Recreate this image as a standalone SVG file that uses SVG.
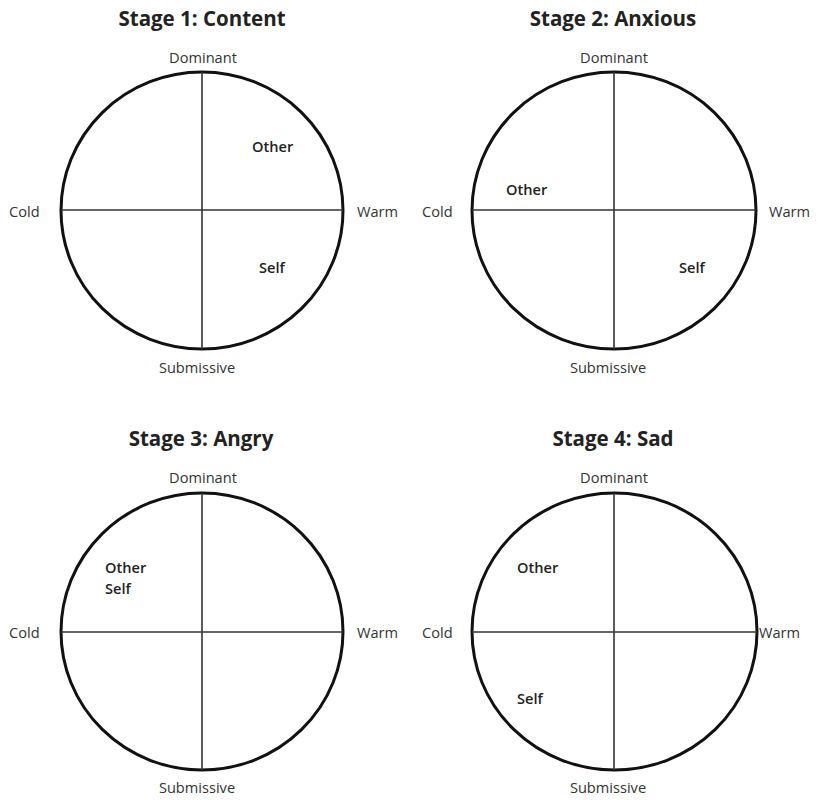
<svg xmlns="http://www.w3.org/2000/svg" width="822" height="800" viewBox="0 0 822 800">
<style>
.ring{fill:none;stroke:#111;stroke-width:3}
.axis{stroke:#333;stroke-width:1.6}
.title{font-family:"Open Sans","Liberation Sans",sans-serif;font-weight:700;font-size:20.5px;fill:#222;text-anchor:middle}
.pole{font-family:"Open Sans","Liberation Sans",sans-serif;font-size:14.6px;fill:#333}
.mid{text-anchor:middle}
.tag{font-family:"Open Sans","Liberation Sans",sans-serif;font-weight:600;font-size:14.6px;fill:#222}
</style>
<rect width="822" height="800" fill="#fff"/>
<g id="stage1">
<text class="title" x="202" y="26">Stage 1: Content</text>
<ellipse class="ring" cx="202" cy="210.5" rx="141" ry="138.5"/>
<line class="axis" x1="202" y1="72" x2="202" y2="349"/>
<line class="axis" x1="61" y1="210" x2="343" y2="210"/>
<text class="pole mid" x="203" y="63">Dominant</text>
<text class="pole" x="9" y="217">Cold</text>
<text class="pole" x="357" y="217">Warm</text>
<text class="pole mid" x="197" y="373">Submissive</text>
<text class="tag" x="252" y="152">Other</text>
<text class="tag" x="259" y="273">Self</text>
</g>
<g id="stage2">
<text class="title" x="613" y="26">Stage 2: Anxious</text>
<ellipse class="ring" cx="614" cy="210.5" rx="142" ry="138.5"/>
<line class="axis" x1="614" y1="72" x2="614" y2="349"/>
<line class="axis" x1="472" y1="210" x2="756" y2="210"/>
<text class="pole mid" x="614" y="63">Dominant</text>
<text class="pole" x="422" y="217">Cold</text>
<text class="pole" x="769" y="217">Warm</text>
<text class="pole mid" x="608" y="373">Submissive</text>
<text class="tag" x="506" y="195">Other</text>
<text class="tag" x="679" y="273">Self</text>
</g>
<g id="stage3">
<text class="title" x="201" y="446">Stage 3: Angry</text>
<ellipse class="ring" cx="202" cy="631.5" rx="141" ry="138.5"/>
<line class="axis" x1="202" y1="493" x2="202" y2="770"/>
<line class="axis" x1="61" y1="632" x2="343" y2="632"/>
<text class="pole mid" x="203" y="483">Dominant</text>
<text class="pole" x="9" y="638">Cold</text>
<text class="pole" x="357" y="638">Warm</text>
<text class="pole mid" x="197" y="793">Submissive</text>
<text class="tag" x="105" y="573">Other</text>
<text class="tag" x="105" y="594">Self</text>
</g>
<g id="stage4">
<text class="title" x="613" y="446">Stage 4: Sad</text>
<ellipse class="ring" cx="614.5" cy="631.5" rx="142.5" ry="138.5"/>
<line class="axis" x1="614" y1="493" x2="614" y2="770"/>
<line class="axis" x1="472" y1="632" x2="757" y2="632"/>
<text class="pole mid" x="614" y="483">Dominant</text>
<text class="pole" x="422" y="638">Cold</text>
<text class="pole" x="759" y="638">Warm</text>
<text class="pole mid" x="608" y="793">Submissive</text>
<text class="tag" x="517" y="573">Other</text>
<text class="tag" x="517" y="704">Self</text>
</g>
</svg>
